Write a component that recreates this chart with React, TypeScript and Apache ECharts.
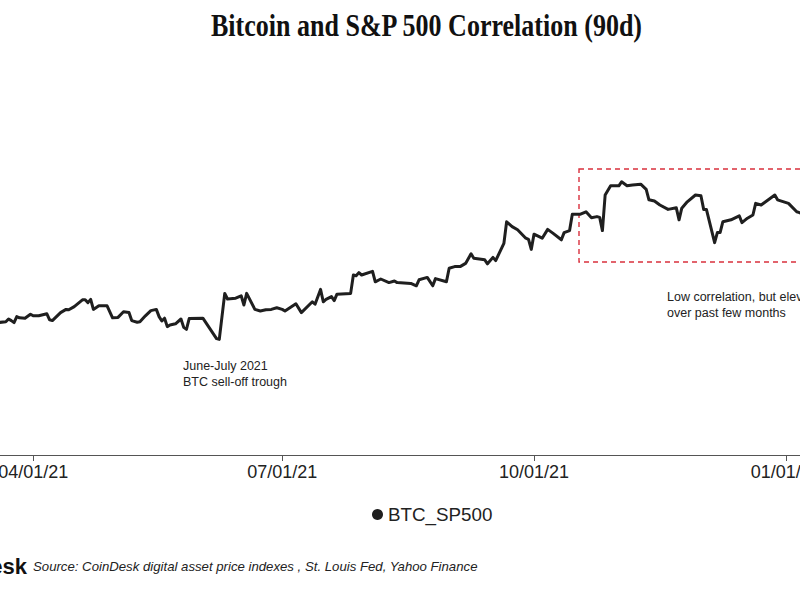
import React, { useEffect, useRef } from "react";
import * as echarts from "echarts";

const dates: string[] = [
  "2021-03-19", "2021-03-22", "2021-03-23", "2021-03-24", "2021-03-25", "2021-03-26", "2021-03-27", "2021-03-29", "2021-03-31",
  "2021-04-01", "2021-04-03", "2021-04-06", "2021-04-07", "2021-04-08", "2021-04-11", "2021-04-13", "2021-04-14", "2021-04-16",
  "2021-04-19", "2021-04-20", "2021-04-21", "2021-04-22", "2021-04-23", "2021-04-25", "2021-04-28", "2021-04-30",
  "2021-05-02", "2021-05-04", "2021-05-06", "2021-05-07", "2021-05-09", "2021-05-10", "2021-05-12", "2021-05-14", "2021-05-16",
  "2021-05-17", "2021-05-18", "2021-05-19", "2021-05-20", "2021-05-21", "2021-05-23", "2021-05-25", "2021-05-26", "2021-05-27",
  "2021-05-28", "2021-06-02", "2021-06-07", "2021-06-08", "2021-06-10", "2021-06-11", "2021-06-14", "2021-06-16", "2021-06-17",
  "2021-06-18", "2021-06-21", "2021-06-23", "2021-06-25", "2021-06-27", "2021-06-29", "2021-07-01", "2021-07-02", "2021-07-06",
  "2021-07-08", "2021-07-12", "2021-07-13", "2021-07-15", "2021-07-16", "2021-07-17", "2021-07-19", "2021-07-20", "2021-07-21",
  "2021-07-26", "2021-07-27", "2021-07-28", "2021-07-29", "2021-07-30", "2021-08-03", "2021-08-04", "2021-08-06", "2021-08-09",
  "2021-08-11", "2021-08-12", "2021-08-17", "2021-08-19", "2021-08-20", "2021-08-23", "2021-08-25", "2021-08-26", "2021-08-30",
  "2021-08-31", "2021-09-02", "2021-09-04", "2021-09-06", "2021-09-08", "2021-09-09", "2021-09-11", "2021-09-13", "2021-09-14",
  "2021-09-16", "2021-09-17", "2021-09-20", "2021-09-21", "2021-09-23", "2021-09-25", "2021-09-28", "2021-09-29", "2021-09-30",
  "2021-10-01", "2021-10-04", "2021-10-06", "2021-10-08", "2021-10-11", "2021-10-12", "2021-10-14", "2021-10-15", "2021-10-18",
  "2021-10-20", "2021-10-22", "2021-10-24", "2021-10-25", "2021-10-26", "2021-10-27", "2021-10-29", "2021-11-01", "2021-11-02",
  "2021-11-04", "2021-11-06", "2021-11-09", "2021-11-11", "2021-11-12", "2021-11-14", "2021-11-16", "2021-11-19", "2021-11-22",
  "2021-11-23", "2021-11-24", "2021-11-26", "2021-11-29", "2021-12-01", "2021-12-02", "2021-12-03", "2021-12-06", "2021-12-07",
  "2021-12-08", "2021-12-09", "2021-12-12", "2021-12-15", "2021-12-16", "2021-12-18", "2021-12-20", "2021-12-21", "2021-12-23",
  "2021-12-28", "2021-12-29", "2022-01-02", "2022-01-05", "2022-01-06", "2022-01-07",
];

const btcSp500: number[] = [
  0.031, 0.033, 0.040, 0.036, 0.031, 0.046, 0.043, 0.042, 0.052,
  0.048, 0.048, 0.053, 0.038, 0.036, 0.056, 0.064, 0.063, 0.071,
  0.088, 0.088, 0.081, 0.089, 0.064, 0.073, 0.073, 0.043,
  0.044, 0.058, 0.056, 0.036, 0.032, 0.033, 0.048, 0.061, 0.064,
  0.046, 0.035, 0.042, 0.021, 0.025, 0.028, 0.040, 0.019, 0.014,
  0.041, 0.042, -0.009, -0.011, 0.104, 0.090, 0.092, 0.098, 0.075,
  0.104, 0.064, 0.060, 0.063, 0.064, 0.068, 0.064, 0.060, 0.078,
  0.056, 0.083, 0.077, 0.114, 0.083, 0.089, 0.096, 0.086, 0.102,
  0.104, 0.150, 0.148, 0.156, 0.150, 0.159, 0.133, 0.140, 0.131,
  0.135, 0.131, 0.129, 0.123, 0.138, 0.144, 0.123, 0.141, 0.133,
  0.167, 0.171, 0.171, 0.179, 0.203, 0.192, 0.190, 0.188, 0.178,
  0.194, 0.186, 0.229, 0.283, 0.271, 0.263, 0.242, 0.239, 0.214,
  0.252, 0.242, 0.264, 0.254, 0.238, 0.256, 0.261, 0.302, 0.302,
  0.308, 0.293, 0.296, 0.294, 0.261, 0.350, 0.373, 0.373, 0.383,
  0.373, 0.375, 0.377, 0.364, 0.338, 0.335, 0.325, 0.314, 0.318,
  0.288, 0.317, 0.333, 0.350, 0.348, 0.314, 0.314, 0.231, 0.256,
  0.256, 0.283, 0.288, 0.298, 0.281, 0.292, 0.300, 0.329, 0.325,
  0.350, 0.338, 0.329, 0.308, 0.306, 0.303,
];

const tickDates: string[] = ["2021-04-01", "2021-07-01", "2021-10-01", "2022-01-01"];

const titleText = "Bitcoin and S&P 500 Correlation (90d)";
const seriesName = "BTC_SP500";
const note1 = "June-July 2021\nBTC sell-off trough";
const note2 = "Low correlation, but elevated\nover past few months";
const sourceText = "Source: CoinDesk digital asset price indexes , St. Louis Fed, Yahoo Finance";

const DAY = 86400000;

function toTs(s: string): number {
  const [y, m, d] = s.split("-").map(Number);
  return Date.UTC(y, m - 1, d);
}

function pad(n: number) {
  return n < 10 ? "0" + n : "" + n;
}

export default function App() {
  const ref = useRef<HTMLDivElement>(null);

  useEffect(() => {
    if (!ref.current) return;
    const chart = echarts.init(ref.current, undefined, { renderer: "svg" });
    const sans = "'Liberation Sans', Arial, Helvetica, sans-serif";
    const data = dates.map((d, i) => [toTs(d), btcSp500[i]]);
    const ticks = tickDates.map(toTs);

    chart.setOption({
      animation: false,
      backgroundColor: "#ffffff",
      grid: { left: 0, right: 0, top: 55, bottom: 145, containLabel: false, outerBoundsMode: "none" },
      xAxis: {
        type: "value",
        min: toTs("2021-03-19") + 0.87 * DAY,
        max: toTs("2022-01-06") + 0.2 * DAY,
        axisLine: { show: true, onZero: false, lineStyle: { color: "#555555", width: 1 } },
        axisTick: { show: true, customValues: ticks, length: 6, lineStyle: { color: "#555555" } },
        axisLabel: {
          customValues: ticks,
          fontSize: 18,
          color: "#222222",
          fontFamily: sans,
          margin: 8,
          showMinLabel: true,
          showMaxLabel: true,
          hideOverlap: false,
          formatter: (v: number) => {
            const d = new Date(v);
            return pad(d.getUTCMonth() + 1) + "/" + pad(d.getUTCDate()) + "/" + pad(d.getUTCFullYear() % 100);
          },
        },
        splitLine: { show: false },
      },
      yAxis: {
        type: "value",
        min: -0.3,
        max: 0.7,
        show: false,
        splitLine: { show: false },
      },
      legend: {
        data: [seriesName],
        icon: "circle",
        itemWidth: 11,
        itemHeight: 11,
        left: 367,
        top: 500,
        textStyle: { fontSize: 18.8, color: "#222222", fontFamily: sans },
      },
      series: [
        {
          name: seriesName,
          type: "line",
          data,
          showSymbol: false,
          symbol: "none",
          clip: true,
          lineStyle: { color: "#1f1f1f", width: 3, join: "round" },
          itemStyle: { color: "#1f1f1f" },
        },
      ],
      graphic: [
        {
          type: "text",
          x: 426.5,
          y: 25,
          scaleX: 0.84,
          style: {
            text: titleText,
            x: 0,
            y: 0,
            textAlign: "center",
            textVerticalAlign: "middle",
            fontFamily: "'Liberation Serif', 'Times New Roman', serif",
            fontWeight: "bold",
            fontSize: 31,
            fill: "#111111",
          },
        },
        {
          type: "rect",
          shape: { x: 579, y: 169, width: 260, height: 93 },
          style: { fill: "none", stroke: "#d9303d", lineWidth: 1.4, lineDash: [5, 4] },
        },
        {
          type: "text",
          x: 183,
          y: 358,
          style: {
            text: note1,
            fontFamily: sans,
            fontSize: 12.5,
            lineHeight: 16,
            fill: "#222222",
            textVerticalAlign: "top",
          },
        },
        {
          type: "text",
          x: 667,
          y: 289,
          style: {
            text: note2,
            fontFamily: sans,
            fontSize: 12.5,
            lineHeight: 16,
            fill: "#222222",
            textVerticalAlign: "top",
          },
        },
        {
          type: "text",
          x: 27,
          y: 566,
          style: {
            text: "CoinDesk",
            textAlign: "right",
            textVerticalAlign: "middle",
            fontFamily: sans,
            fontWeight: "bold",
            fontSize: 22,
            fill: "#111111",
          },
        },
        {
          type: "text",
          x: 33,
          y: 566,
          style: {
            text: sourceText,
            textVerticalAlign: "middle",
            fontFamily: sans,
            fontStyle: "italic",
            fontSize: 13.2,
            fill: "#222222",
          },
        },
      ],
    });

    return () => chart.dispose();
  }, []);

  return (
    <div
      ref={ref}
      style={{ position: "fixed", left: 0, top: 0, width: 800, height: 600, background: "#ffffff" }}
    />
  );
}
